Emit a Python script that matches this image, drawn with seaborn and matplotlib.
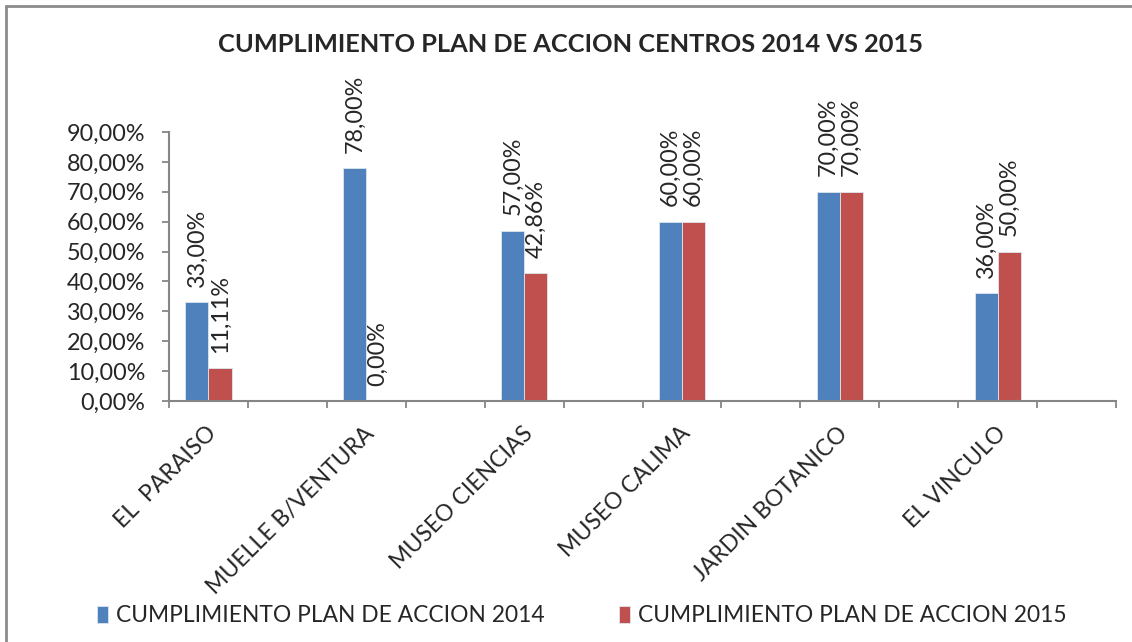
import numpy as np
import pandas as pd
import matplotlib
matplotlib.use("Agg")
import matplotlib.pyplot as plt
import matplotlib.transforms as mtransforms
from matplotlib.ticker import FuncFormatter
from matplotlib.lines import Line2D
import seaborn as sns

# chart values
centros = ["EL  PARAISO", "MUELLE B/VENTURA", "MUSEO CIENCIAS",
           "MUSEO CALIMA", "JARDIN BOTANICO", "EL VINCULO"]
plan_2014 = [0.33, 0.78, 0.57, 0.60, 0.70, 0.36]
plan_2015 = [0.1111, 0.0, 0.4286, 0.60, 0.70, 0.50]
series_names = ["CUMPLIMIENTO PLAN DE ACCION 2014", "CUMPLIMIENTO PLAN DE ACCION 2015"]
y_ticks = [0.0, 0.1, 0.2, 0.3, 0.4, 0.5, 0.6, 0.7, 0.8, 0.9]
title = "CUMPLIMIENTO PLAN DE ACCION CENTROS 2014 VS 2015"

colors = ["#4F81BD", "#C0504D"]
gray = "#868686"

# long table for seaborn
df = pd.DataFrame({
    "centro": centros * 2,
    "valor": plan_2014 + plan_2015,
    "serie": [series_names[0]] * len(centros) + [series_names[1]] * len(centros),
})

# the original chart leaves an empty slot after every centre
order = []
for i, c in enumerate(centros):
    order.append(c)
    order.append(" " * (i + 1) + "_")

sns.set_style("white")
plt.rcParams["font.family"] = ["Lato", "DejaVu Sans"]

fig = plt.figure(figsize=(11.32, 6.42), dpi=100)
ax = fig.add_axes([169 / 1132, 1 - 401 / 642, (1116 - 169) / 1132, (401 - 132) / 642])

sns.barplot(data=df, x="centro", y="valor", hue="serie", order=order,
            hue_order=series_names, palette=colors, width=0.585, gap=0,
            saturation=1, errorbar=None, ax=ax, legend=True, linewidth=0.6,
            edgecolor="#dde6f0")

ax.set_xlim(-0.5, len(order) - 0.5)
ax.set_ylim(0, 0.9)
ax.set_yticks(y_ticks)
ax.yaxis.set_major_formatter(FuncFormatter(lambda v, p: f"{v * 100:.2f}%".replace(".", ",")))
ax.set_xlabel("")
ax.set_ylabel("")

# category labels at the centres, tick marks between slots
ax.set_xticks([2 * i for i in range(len(centros))])
ax.set_xticklabels(centros, rotation=45, ha="right", va="center", rotation_mode="anchor")
ax.set_xticks(np.arange(-0.5, len(order), 1), minor=True)
ax.tick_params(axis="x", which="major", length=0, pad=21, labelsize=16.6)
ax.tick_params(axis="x", which="minor", length=5, width=1.3, color=gray, direction="out", bottom=True)
ax.tick_params(axis="y", length=5, width=1.3, color=gray, direction="out", left=True, pad=12, labelsize=16.8)
shift = mtransforms.ScaledTranslation(5 / 100, 0, fig.dpi_scale_trans)
for lab in ax.get_xticklabels():
    lab.set_transform(lab.get_transform() + shift)

for side in ["top", "right"]:
    ax.spines[side].set_visible(False)
for side in ["left", "bottom"]:
    ax.spines[side].set_color(gray)
    ax.spines[side].set_linewidth(1.5)

# data labels
for cont, vals in zip(ax.containers, [plan_2014, plan_2015]):
    labels = [f"{v * 100:.2f}%".replace(".", ",") for v in vals]
    ax.bar_label(cont, labels=labels, rotation=90, padding=11, fontsize=16.8)

# legend at the bottom
handles, labs = ax.get_legend_handles_labels()
ax.get_legend().remove()
fig.legend(handles, labs, ncol=2, loc="center", bbox_to_anchor=(582 / 1132, 1 - 616 / 642),
           frameon=False, fontsize=16.4, handlelength=0.5, handleheight=0.8,
           handletextpad=0.35, columnspacing=3.25)

fig.text(571 / 1132, 1 - 45 / 642, title, ha="center", va="center",
         fontsize=18.3, fontweight="bold")

# chart border (top and left visible in the reference)
fig.add_artist(Line2D([6 / 1132, 1.0], [1 - 6 / 642, 1 - 6 / 642], color="#8c8c8c", lw=2))
fig.add_artist(Line2D([6 / 1132, 6 / 1132], [1 - 6 / 642, 0.0], color="#8c8c8c", lw=2))

fig.savefig("out.png", dpi=100)
